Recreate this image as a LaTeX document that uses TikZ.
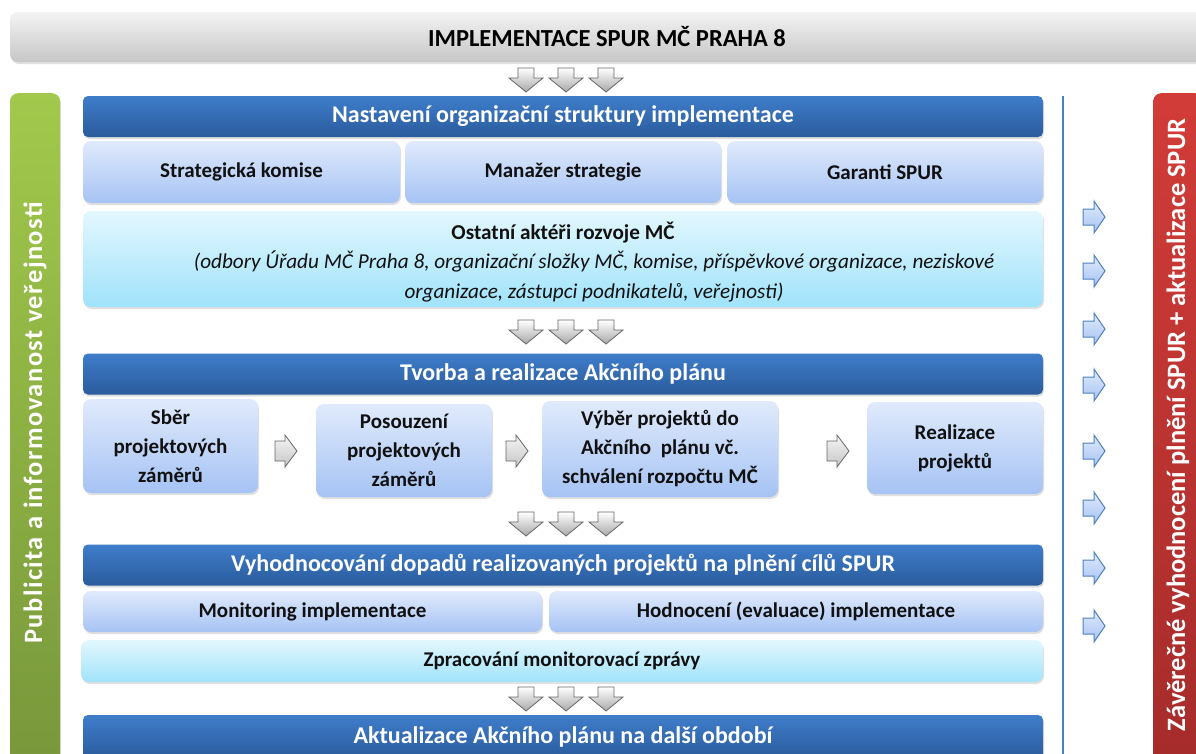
\documentclass[tikz,border=0pt]{standalone}
\usepackage{fontspec}
\setmainfont{Carlito}
\newfontfamily\spacedfont[LetterSpace=5.5]{Carlito}
\usetikzlibrary{shadows}
\definecolor{hdtop}{HTML}{3F7DCA}
\definecolor{hdbot}{HTML}{2A5B9C}
\definecolor{lbtop}{HTML}{E0EAFC}
\definecolor{lbbot}{HTML}{A6C3F4}
\definecolor{cytop}{HTML}{E3F7FE}
\definecolor{cybot}{HTML}{A0E3FA}
\definecolor{grtop}{HTML}{F3F3F3}
\definecolor{grbot}{HTML}{C6C6C6}
\definecolor{gntop}{HTML}{A2C94C}
\definecolor{gnbot}{HTML}{76953A}
\definecolor{rdtop}{HTML}{D23C38}
\definecolor{rdbot}{HTML}{A32B2A}
\definecolor{bline}{HTML}{4F81BD}
\definecolor{txt}{HTML}{111111}
\tikzset{
  shad/.style={drop shadow={opacity=0.25,shadow xshift=1pt,shadow yshift=-2pt}},
  header/.style={rounded corners=5pt, top color=hdtop, bottom color=hdbot, shad,
    text=white, font=\fontsize{24}{28}\selectfont\bfseries,
    minimum width=960, minimum height=41, inner sep=0pt},
  lbox/.style={rounded corners=8pt, top color=lbtop, bottom color=lbbot, shad,
    text=txt, font=\fontsize{21}{29}\selectfont\bfseries, align=center, inner sep=0pt},
  cbox/.style={rounded corners=8pt, top color=cytop, bottom color=cybot, shad,
    text=txt, font=\fontsize{21.2}{29.5}\selectfont, align=center, inner sep=0pt},
  darr/.pic={\draw[draw=gray!80!black, line width=0.8pt, top color=white, bottom color=grbot!85!black]
      (-8,0) -- (8,0) -- (8,10) -- (17,10) -- (0,24) -- (-17,10) -- (-8,10) -- cycle;},
  garr/.pic={\draw[draw=gray!80!black, line width=0.8pt, top color=white!92!gray, bottom color=grbot]
      (0,-10) -- (10,-10) -- (10,-16) -- (22,0) -- (10,16) -- (10,10) -- (0,10) -- cycle;},
  barr/.pic={\draw[draw=bline, line width=1pt, top color=lbtop, bottom color=lbbot]
      (0,-8) -- (11,-8) -- (11,-16) -- (22,0) -- (11,16) -- (11,8) -- (0,8) -- cycle;},
}
\begin{document}
\begin{tikzpicture}[x=1pt,y=-1pt]
\useasboundingbox (0,0) rectangle (1196,753);
\clip (0,0) rectangle (1196,753);
% top bar
\node[rounded corners=8pt, top color=grtop, bottom color=grbot, shad, minimum width=1196, minimum height=50,
  inner sep=0pt] (top) at (608,37) {};
\node[font=\fontsize{24.5}{28}\selectfont\bfseries, text=black] (toptext) at (607,37) {IMPLEMENTACE SPUR MČ PRAHA 8};
% side bars
\node[rounded corners=8pt, top color=gntop, bottom color=gnbot, shad, minimum width=50, minimum height=700,
  inner sep=0pt, anchor=north] (green) at (35,93) {};
\node[rotate=90, text=white, font=\spacedfont\fontsize{26.5}{30}\selectfont\bfseries] (greentext) at (35,423)
  {Publicita a informovanost veřejnosti};
\node[rounded corners=8pt, top color=rdtop, bottom color=rdbot, shad, minimum width=50, minimum height=700,
  inner sep=0pt, anchor=north west] (red) at (1153,93) {};
\node[rotate=90, text=white, font=\fontsize{26.5}{30}\selectfont\bfseries] (redtext) at (1178,425)
  {Závěrečné vyhodnocení plnění SPUR + aktualizace SPUR};
% vertical line
\coordinate (l1) at (1063,96);
\coordinate (l2) at (1063,760);
\draw[bline, line width=2pt] (l1) -- (l2);
% down arrows
\foreach \yy in {68,320,512,687}{
  \foreach \xx in {526,566,606}{
    \pic at (\xx,\yy) {darr};
  }
}
% headers
\node[header] (h1) at (563,116.5) {Nastavení organizační struktury implementace};
\node[header] (h2) at (563,374) {Tvorba a realizace Akčního plánu};
\node[header] (h3) at (563,565) {Vyhodnocování dopadů realizovaných projektů na plnění cílů SPUR};
\node[header, minimum height=44] (h4) at (563,737) {Aktualizace Akčního plánu na další období};
% row 1
\node[lbox, minimum width=317, minimum height=62] (b1) at (241.5,172) {Strategická komise};
\node[lbox, minimum width=316, minimum height=62] (b2) at (563,172) {Manažer strategie};
\node[lbox, minimum width=316, minimum height=62] (b3) at (885,172) {Garanti SPUR};
\node[cbox, minimum width=960, minimum height=96] (oth) at (563,259) {};
\node[text=txt, font=\fontsize{21.2}{29.5}\selectfont, align=center, inner sep=0pt] (othtext) at (563,262)
  {\bfseries Ostatní aktéři rozvoje MČ\\
   \hspace*{62pt}\itshape (odbory Úřadu MČ Praha 8, organizační složky MČ, komise, příspěvkové organizace, neziskové\\
   \hspace*{62pt}\itshape organizace, zástupci podnikatelů, veřejnosti)};
% row 2
\node[lbox, minimum width=175, minimum height=94] (s1) at (170.5,446) {Sběr\\projektových\\záměrů};
\node[lbox, minimum width=176, minimum height=93] (s2) at (404,450.5) {Posouzení\\projektových\\záměrů};
\node[lbox, minimum width=236, minimum height=96] (s3) at (660,449) {Výběr projektů do\\Akčního~ plánu vč.\\schválení rozpočtu MČ};
\node[lbox, minimum width=176, minimum height=92] (s4) at (955,448) {Realizace\\projektů};
\pic at (275,451) {garr};
\pic at (506,451) {garr};
\pic at (827,451) {garr};
% row 3
\node[lbox, minimum width=459, minimum height=41] (m1) at (312.5,611.5) {Monitoring implementace};
\node[lbox, minimum width=494, minimum height=41] (m2) at (796,611.5) {Hodnocení (evaluace) implementace};
\node[cbox, minimum width=962, minimum height=42, font=\fontsize{21}{24}\selectfont\bfseries] (zp) at (562,661)
  {Zpracování monitorovací zprávy};
% blue right arrows
\foreach \yy in {217,271,329,385,451,508,568,626}{
  \pic at (1083,\yy) {barr};
}
\end{tikzpicture}
\end{document}
